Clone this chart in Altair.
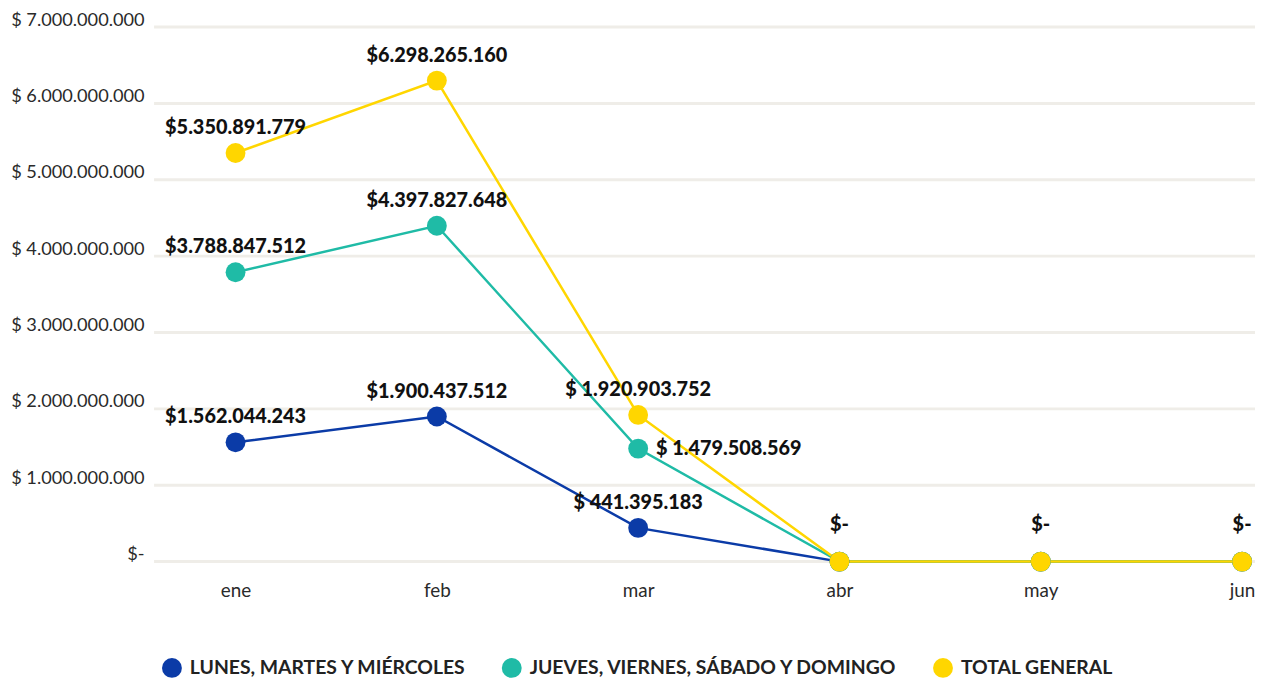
import altair as alt
import pandas as pd

months = ["ene", "feb", "mar", "abr", "may", "jun"]
series = ["LUNES, MARTES Y MIÉRCOLES", "JUEVES, VIERNES, SÁBADO Y DOMINGO", "TOTAL GENERAL"]
colors = ["#0B3BA7", "#1FBBA6", "#FFD600"]

lun_mie = [1562044243, 1900437512, 441395183, 0, 0, 0]
jue_dom = [3788847512, 4397827648, 1479508569, 0, 0, 0]
total = [5350891779, 6298265160, 1920903752, 0, 0, 0]

lun_mie_lbl = ["$1.562.044.243", "$1.900.437.512", "$ 441.395.183", "$-", "$-", "$-"]
jue_dom_lbl = ["$3.788.847.512", "$4.397.827.648", "$ 1.479.508.569", "$-", "$-", "$-"]
total_lbl = ["$5.350.891.779", "$6.298.265.160", "$ 1.920.903.752", "$-", "$-", "$-"]

y_ticks = [0, 1000000000, 2000000000, 3000000000, 4000000000, 5000000000, 6000000000, 7000000000]

rows = []
for si, (vals, lbls) in enumerate([(lun_mie, lun_mie_lbl), (jue_dom, jue_dom_lbl), (total, total_lbl)]):
    for mi, m in enumerate(months):
        rows.append({"mes": m, "serie": series[si], "orden": si, "valor": vals[mi], "etiqueta": lbls[mi]})
df = pd.DataFrame(rows)
grid_df = pd.DataFrame({"valor": y_ticks})

FONT = "Lato"
W, H = 1108, 538

x = alt.X("mes:N", sort=months, scale=alt.Scale(type="point", range=[82, 1095], padding=0),
          axis=alt.Axis(title=None, labelAngle=0, domain=False, ticks=False, grid=False,
                        labelFontSize=19, labelFont=FONT, labelFontWeight="normal",
                        labelColor="#2a2a2a", labelPadding=20))
yscale = alt.Scale(domain=[0, 7000000000], nice=False)
y = alt.Y("valor:Q", scale=yscale,
          axis=alt.Axis(title=None, values=y_ticks,
                        labelExpr="datum.value == 0 ? '$-' : '$ ' + replace(format(datum.value, ','), regexp(',', 'g'), '.')",
                        domain=False, ticks=False, grid=False,
                        labelFontSize=18.3, labelFont=FONT, labelFontWeight="normal",
                        labelColor="#2a2a2a", labelPadding=10, labelOffset=-7))
color = alt.Color("serie:N", sort=series, scale=alt.Scale(domain=series, range=colors),
                  legend=alt.Legend(title=None, orient="none", direction="horizontal",
                                    legendX=8, legendY=635, symbolType="circle", symbolSize=400,
                                    symbolStrokeWidth=0, labelFont=FONT, labelFontSize=19.5,
                                    labelFontWeight="bold", labelColor="#222222", labelLimit=0,
                                    columnPadding=35, labelOffset=8, padding=0))

grid = alt.Chart(grid_df).mark_rule(color="#EFEDE8", strokeWidth=3).encode(
    y=y, x=alt.value(0), x2=alt.value(W))

base = alt.Chart(df)

lines = base.mark_line(strokeWidth=2.5).encode(x=x, y=y, color=color, order="orden:Q")
points = base.mark_point(filled=True, size=400, opacity=1, shape="circle").encode(
    x=x, y=y, color=color, order="orden:Q")

txt_style = dict(font=FONT, fontSize=20, fontWeight=900, color="#111111", baseline="middle")

labels_main = base.transform_filter(
    "datum.valor > 0 && !(datum.orden == 1 && datum.mes == 'mar')"
).mark_text(dy=-25, align="center", **txt_style).encode(x=x, y=y, text="etiqueta:N")
labels_right = base.transform_filter(
    "datum.orden == 1 && datum.mes == 'mar'"
).mark_text(dx=18, align="left", **txt_style).encode(x=x, y=y, text="etiqueta:N")
labels_zero = base.transform_filter(
    "datum.valor == 0 && datum.orden == 2"
).mark_text(dy=-37, align="center", **txt_style).encode(x=x, y=y, text="etiqueta:N")

chart = alt.layer(grid, lines, points, labels_main, labels_right, labels_zero).properties(
    width=W, height=H,
    autosize=alt.AutoSizeParams(type="none"),
    padding={"left": 147, "top": 17, "right": 0, "bottom": 116},
).configure(background="white").configure_view(stroke=None)

chart.save("out.html", embed_options={"renderer": "svg", "actions": False})
